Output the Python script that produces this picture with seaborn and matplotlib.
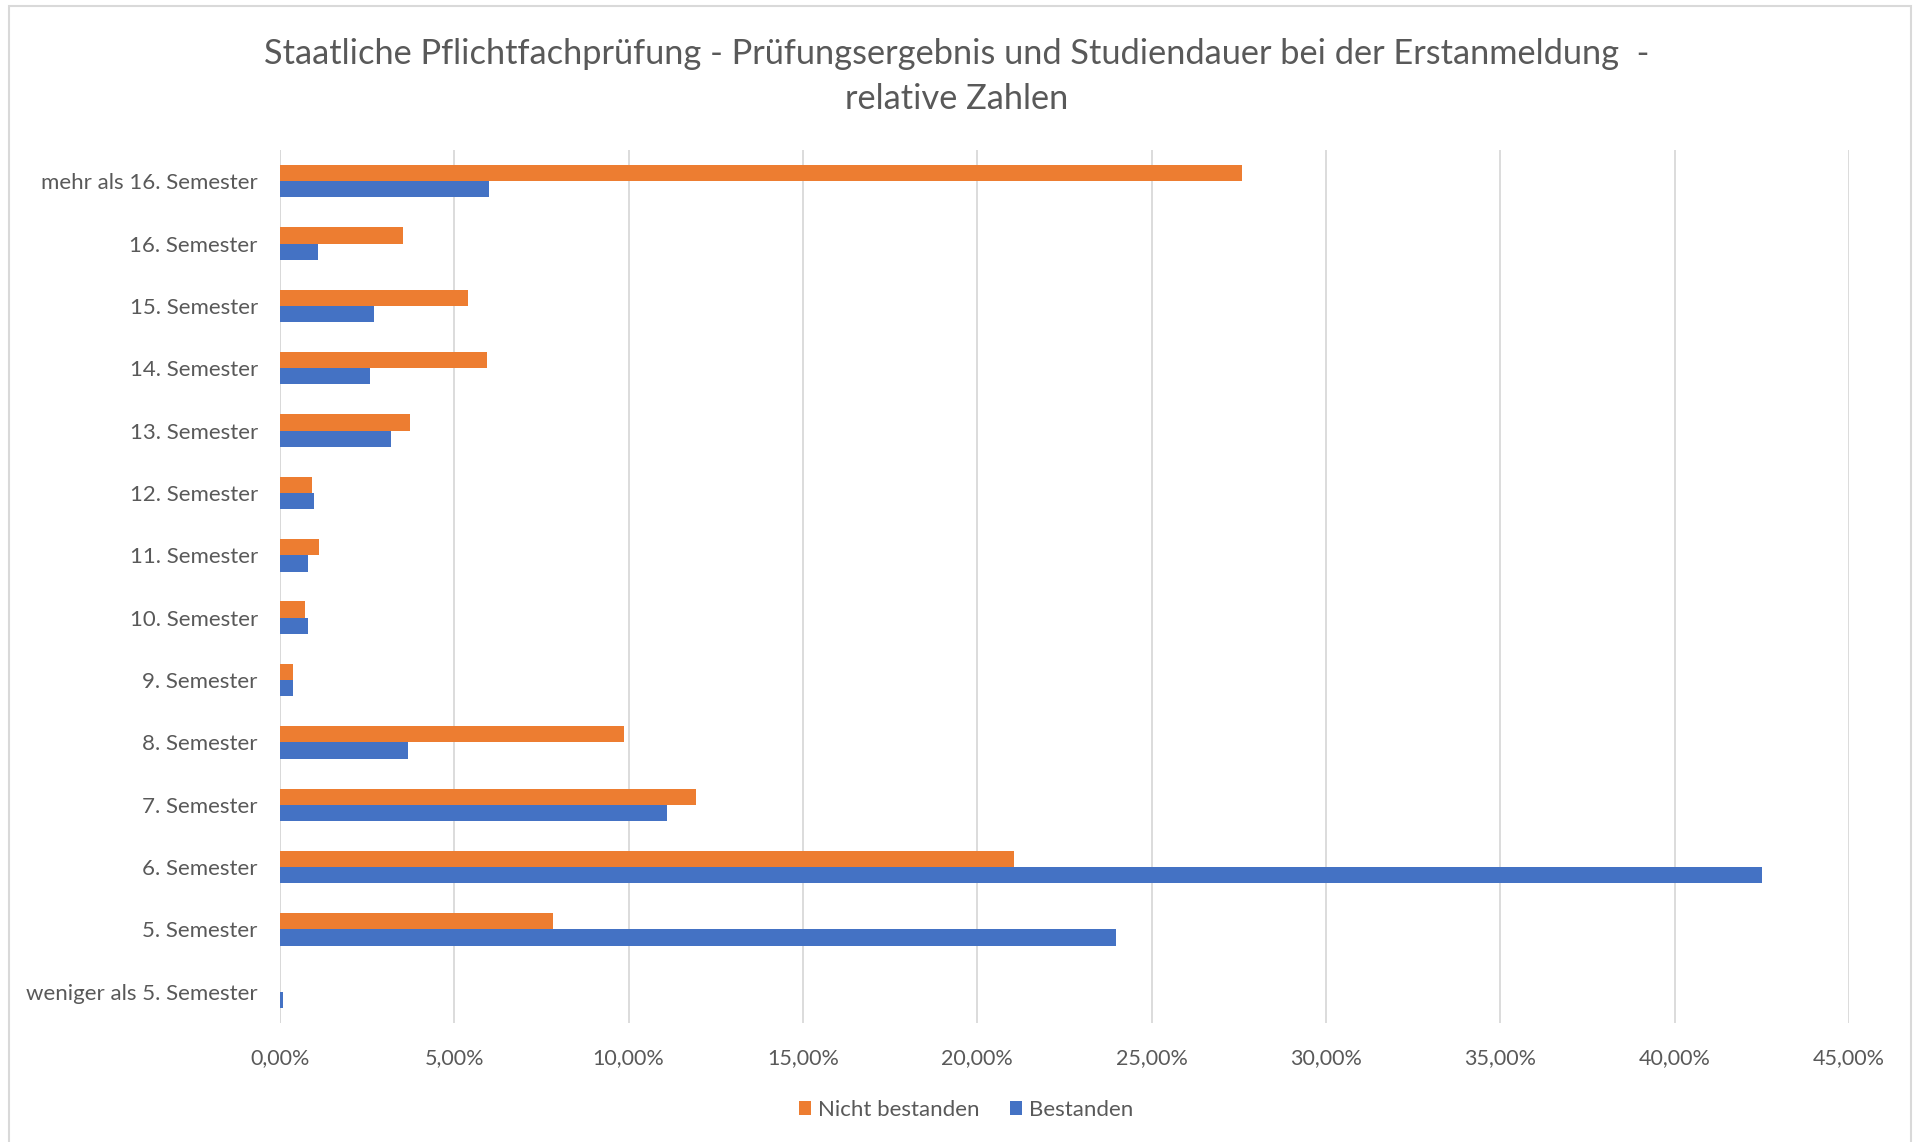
import matplotlib
matplotlib.use("Agg")
import matplotlib.pyplot as plt
import seaborn as sns
import pandas as pd
from matplotlib.ticker import FuncFormatter, MultipleLocator
from matplotlib.patches import Rectangle, Patch

categories = ["mehr als 16. Semester", "16. Semester", "15. Semester", "14. Semester",
              "13. Semester", "12. Semester", "11. Semester", "10. Semester",
              "9. Semester", "8. Semester", "7. Semester", "6. Semester",
              "5. Semester", "weniger als 5. Semester"]
nicht_bestanden = [27.58, 3.53, 5.38, 5.95, 3.72, 0.91, 1.11, 0.73, 0.36, 9.87, 11.93, 21.05, 7.82, 0.0]
bestanden = [5.99, 1.09, 2.69, 2.59, 3.19, 0.98, 0.79, 0.79, 0.37, 3.68, 11.09, 42.50, 23.99, 0.09]
series_names = ["Nicht bestanden", "Bestanden"]
title = "Staatliche Pflichtfachprüfung - Prüfungsergebnis und Studiendauer bei der Erstanmeldung  -\nrelative Zahlen"

colors = {"Nicht bestanden": "#ED7D31", "Bestanden": "#4472C4"}
text_color = "#595959"
grid_color = "#D9D9D9"

df = pd.DataFrame({
    "Kategorie": categories * 2,
    "Wert": nicht_bestanden + bestanden,
    "Serie": [series_names[0]] * len(categories) + [series_names[1]] * len(categories),
})

sns.set_theme(style="white")
plt.rcParams["font.family"] = ["Lato", "DejaVu Sans"]

W, H = 1914, 1142
fig = plt.figure(figsize=(W / 100, H / 100), dpi=100)
ax = fig.add_axes([280 / W, 1 - 1023 / H, (1849 - 280) / W, (1023 - 150) / H])

sns.barplot(data=df, y="Kategorie", x="Wert", hue="Serie", order=categories,
            hue_order=series_names, palette=colors, orient="h", width=0.52,
            linewidth=0, saturation=1, ax=ax, legend=False)

ax.set_xlim(0, 45)
ax.xaxis.set_major_locator(MultipleLocator(5))
ax.xaxis.set_major_formatter(FuncFormatter(lambda v, p: f"{v:.2f}%".replace(".", ",")))
ax.grid(axis="x", color=grid_color, linewidth=1.3)
ax.set_axisbelow(True)
for s in ax.spines.values():
    s.set_visible(False)
ax.axvline(0, color=grid_color, linewidth=1.3, zorder=0.5)
ax.set_xlabel("")
ax.set_ylabel("")
ax.tick_params(axis="y", length=0, pad=16, labelsize=16, labelcolor=text_color)
ax.tick_params(axis="x", length=0, pad=18, labelsize=15.5, labelcolor=text_color)

fig.text(957 / W, 1 - 76.5 / H, title, ha="center", va="center", fontsize=24.75,
         color=text_color, linespacing=1.47)

handles = [Patch(facecolor=colors[n], edgecolor="none") for n in series_names]
fig.legend(handles, series_names, loc="center", bbox_to_anchor=(966 / W, 1 - 1110 / H),
           ncol=2, frameon=False, fontsize=16, labelcolor=text_color,
           handlelength=0.55, handleheight=0.55, handletextpad=0.3, columnspacing=1.4)

fig.patches.append(Rectangle((9 / W, -0.01), (1911 - 9) / W, 1 - 6 / H + 0.01,
                             transform=fig.transFigure, fill=False,
                             edgecolor=grid_color, linewidth=1.5))

fig.savefig("out.png", dpi=100, facecolor="white")
